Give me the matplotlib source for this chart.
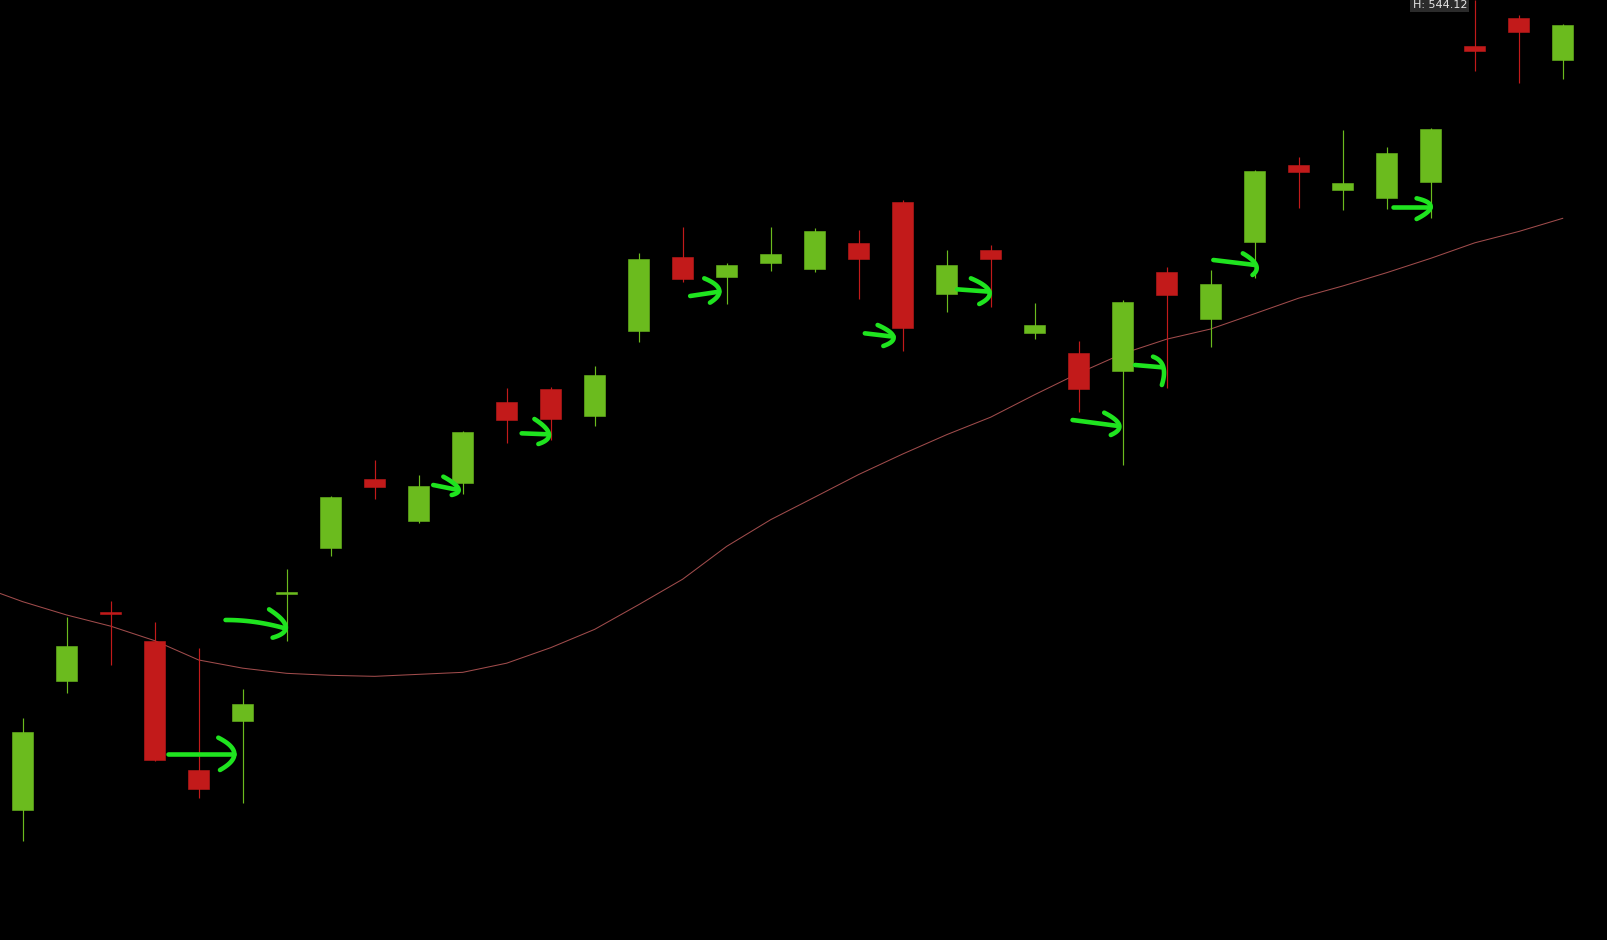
import matplotlib
matplotlib.use("Agg")
import matplotlib.pyplot as plt
import numpy as np

# ---- data ----
opens = [495.52, 503.26, 507.38, 505.68, 497.92, 500.88, 508.48, 511.26, 515.36, 512.88,
         515.16, 520.00, 520.78, 519.18, 524.28, 528.70, 527.50, 528.34, 528.00, 529.54,
         532.02, 526.48, 529.12, 524.12, 522.92, 521.86, 527.78, 524.96, 529.62, 534.22,
         532.72, 532.22, 533.18, 541.38, 543.04, 540.52]
highs = [501.02, 507.12, 508.06, 506.78, 505.26, 502.78, 509.98, 514.36, 516.52, 515.60,
         518.28, 520.86, 520.92, 522.16, 528.92, 530.48, 528.32, 530.52, 530.46, 530.32,
         532.12, 529.12, 529.40, 525.96, 523.64, 526.12, 528.12, 527.92, 533.92, 534.72,
         536.32, 535.32, 536.42, 544.12, 543.22, 542.68]
lows = [493.68, 502.56, 504.22, 498.46, 496.26, 495.92, 505.66, 510.76, 514.16, 512.76,
        514.46, 517.56, 517.72, 518.58, 523.58, 527.22, 525.90, 527.88, 527.78, 526.18,
        523.06, 525.42, 525.68, 523.76, 519.40, 516.20, 520.82, 523.32, 527.42, 531.66,
        531.52, 531.56, 531.02, 539.88, 539.12, 539.40]
closes = [500.20, 505.36, 507.26, 498.52, 496.76, 501.88, 508.58, 514.32, 514.92, 514.98,
          518.20, 518.90, 518.98, 521.60, 528.58, 527.38, 528.24, 528.88, 530.28, 528.60,
          524.44, 528.20, 528.58, 524.62, 520.80, 526.00, 526.42, 527.10, 533.88, 533.82,
          533.16, 534.96, 536.36, 541.04, 542.20, 542.64]

# moving average, starting one bar before the first candle
ma_values = [508.98, 508.02, 507.22, 506.55, 505.68, 504.52, 504.03, 503.72, 503.60, 503.54,
             503.66, 503.78, 504.33, 505.26, 506.36, 507.84, 509.37, 511.34, 512.94, 514.29,
             515.65, 516.88, 518.04, 519.09, 520.44, 521.73, 522.90, 523.77, 524.38, 525.30,
             526.23, 526.96, 527.76, 528.62, 529.55, 530.23, 531.02]

high_label = "H: 544.12"
high_value = 544.12

# hand-drawn arrow annotations (bar index, price): shaft points, head points
arrows = [
    ([(3.31, 498.88), (4.81, 498.88)], [(4.445, 499.86), (4.81, 498.90), (4.484, 497.92)]),
    ([(4.61, 506.92), (5.28, 506.80), (5.96, 506.42)], [(5.60, 507.56), (5.98, 506.52), (5.68, 505.86)]),
    ([(9.33, 515.02), (9.90, 514.72)], [(9.56, 515.52), (9.90, 514.82), (9.75, 514.42)]),
    ([(11.34, 518.12), (11.96, 518.06)], [(11.63, 518.98), (11.96, 518.08), (11.72, 517.48)]),
    ([(15.17, 526.36), (15.83, 526.62)], [(15.49, 527.42), (15.83, 526.72), (15.62, 525.96)]),
    ([(19.14, 524.12), (19.79, 523.92)], [(19.43, 524.62), (19.79, 523.92), (19.56, 523.36)]),
    ([(21.24, 526.76), (21.97, 526.62)], [(21.55, 527.42), (21.97, 526.62), (21.74, 525.88)]),
    ([(23.86, 518.92), (24.90, 518.56)], [(24.58, 519.36), (24.92, 518.62), (24.73, 518.02)]),
    ([(25.28, 522.22), (25.90, 522.08)], [(25.69, 522.72), (25.92, 522.12), (25.89, 521.02)]),
    ([(27.06, 528.52), (28.01, 528.22)], [(27.73, 528.92), (28.03, 528.22), (27.95, 527.62)]),
    ([(31.14, 531.72), (31.98, 531.72)], [(31.68, 532.22), (32.00, 531.72), (31.68, 530.98)]),
]

GREEN = "#6bbb1e"
RED = "#c21a1a"
ARROW = "#1fe41f"
MA_COLOR = "#a04c4c"

fig = plt.figure(figsize=(16.07, 9.40), dpi=100)
fig.patch.set_facecolor("black")
ax = fig.add_axes([0, 0, 1, 1])
ax.set_facecolor("black")
ax.set_axis_off()

x = np.arange(len(opens))
o = np.array(opens); c = np.array(closes); h = np.array(highs); l = np.array(lows)
up = c >= o
colors = [GREEN if u else RED for u in up]

ax.vlines(x, l, h, colors=colors, linewidth=0.85, zorder=2)
body_bottom = np.minimum(o, c)
body_h = np.maximum(np.abs(c - o), 0.12)
ax.bar(x, body_h, bottom=body_bottom, width=0.485, color=colors,
       edgecolor=colors, linewidth=0.4, zorder=3)

ma_x = np.arange(len(ma_values)) - 1
ax.plot(ma_x, ma_values, color=MA_COLOR, linewidth=0.75, zorder=1)


def curve_through(pts, n=30):
    """Quadratic curve through three points (the middle one is passed)."""
    p0, p1, p2 = (np.array(p, dtype=float) for p in pts)
    ctrl = 2 * p1 - (p0 + p2) / 2
    t = np.linspace(0, 1, n)[:, None]
    return (1 - t) ** 2 * p0 + 2 * (1 - t) * t * ctrl + t ** 2 * p2


for shaft, head in arrows:
    if len(shaft) == 3:
        sp = curve_through(shaft)
    else:
        sp = np.array(shaft)
    hp = curve_through(head)
    ax.plot(sp[:, 0], sp[:, 1], color=ARROW, linewidth=3.3, solid_capstyle="round",
            solid_joinstyle="round", zorder=5)
    ax.plot(hp[:, 0], hp[:, 1], color=ARROW, linewidth=3.3, solid_capstyle="round",
            solid_joinstyle="round", zorder=5)

k = 0.06
top = high_value
ax.set_ylim(top - 940 * k, top)
ax.set_xlim(-0.516, 36.007)

ax.text(32.83, high_value - 8 * k, high_label, ha="right", va="baseline",
        fontsize=8, color="#e6e6e6", family="DejaVu Sans", zorder=6,
        bbox=dict(boxstyle="square,pad=0.2", facecolor="#2b2b2b", edgecolor="none"))

fig.savefig("out.png", dpi=100, facecolor="black")
